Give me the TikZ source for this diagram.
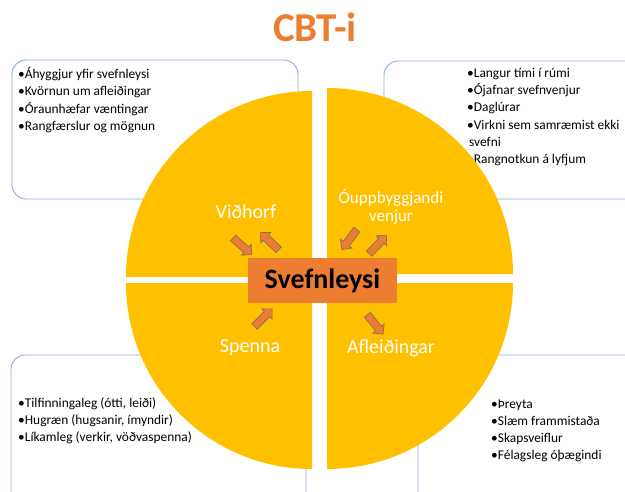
\documentclass[tikz,border=0pt]{standalone}
\usepackage{fontspec}
\setmainfont{Carlito}
\usetikzlibrary{shapes.arrows}
\definecolor{cbtorange}{RGB}{237,125,49}
\definecolor{cbtyellow}{RGB}{255,192,0}
\definecolor{boxblue}{RGB}{143,170,220}
\definecolor{arrowgray}{RGB}{112,112,112}
\def\quarter(#1)(#2:#3){\fill[cbtyellow] (#1) -- ++(#2:186pt) arc (#2:#3:186pt) -- cycle;}
\tikzset{
	listbox/.style={draw=boxblue, line width=0.9pt, fill=white, rounded corners=14pt},
	item/.style={font=\fontsize{13.4}{16}\selectfont, anchor=base west, inner sep=0pt},
	quadlabel/.style={text=white, font=\fontsize{20}{22}\selectfont, inner sep=0pt},
	blockarrow/.style={single arrow, draw=arrowgray, fill=cbtorange, line width=0.6pt,
		minimum height=25pt, inner sep=3.5pt, single arrow head extend=3.5pt}
}

\begin{document}
\begin{tikzpicture}[x=1pt, y=-1pt]
			%%%%% START %%%%%
			\useasboundingbox (0, 0) rectangle (625, 491);
			\clip (0, 0) rectangle (625, 491);
			
			\node[text=cbtorange, font=\fontsize{41}{44}\bfseries] (title) at (315, 27) {CBT-i};
			
			% boxes behind the circle
			\draw[listbox] (12, 60) rectangle (298, 199);
			\draw[listbox] (384, 61) rectangle (650, 199);
			\draw[listbox] (11, 355) rectangle (306, 520);
			\draw[listbox] (418, 355) rectangle (650, 520);
			
			\foreach \t [count=\i] in {•Áhyggjur yfir svefnleysi, •Kvörnun um afleiðingar, •Óraunhæfar væntingar, •Rangfærslur og mögnun}
				\node[item] (tl\i) at (18, 60.5+17.5*\i) {\t};
			\foreach \t [count=\i] in {•Langur tími í rúmi, •Ójafnar svefnvenjur, •Daglúrar, •Virkni sem samræmist ekki, \hspace{2pt}svefni, •Rangnotkun á lyfjum}
				\node[item] (tr\i) at (467, 60+17.3*\i) {\t};
			\foreach \t [count=\i] in {{•Tilfinningaleg (ótti, leiði)}, {•Hugræn (hugsanir, ímyndir)}, {•Líkamleg (verkir, vöðvaspenna)}}
				\node[item] (bl\i) at (18, 390+17*\i) {\t};
			\foreach \t [count=\i] in {•Þreyta, •Slæm frammistaða, •Skapsveiflur, •Félagsleg óþægindi}
				\node[item] (br\i) at (491, 391+17.2*\i) {\t};
			
			% the four quarters
			\quarter(312, 277)(180:90)
			\quarter(327, 274)(90:0)
			\quarter(312, 283)(270:180)
			\quarter(327, 283)(0:-90)
			
			\node[quadlabel] (vidhorf) at (246, 212) {Viðhorf};
			\node[quadlabel, font=\fontsize{17}{18}\selectfont, align=center] (venjur) at (391, 207) {Óuppbyggjandi\\venjur};
			\node[quadlabel] (spenna) at (250, 348) {Spenna};
			\node[quadlabel] (afleid) at (391, 348) {Afleiðingar};
			
			\node[fill=cbtorange, minimum width=149pt, minimum height=45pt, inner sep=0pt,
				font=\fontsize{28}{30}\bfseries] (svefn) at (322.5, 280.5) {Svefnleysi};
			
			% arrows
			\node[blockarrow, rotate=-41.6] (a1) at (241, 245) {};
			\node[blockarrow, rotate=136.6] (a2) at (271, 242.5) {};
			\node[blockarrow, rotate=233] (a3) at (350.5, 238) {};
			\node[blockarrow, rotate=46.6] (a4) at (376.5, 246) {};
			\node[blockarrow, rotate=45] (a5) at (262, 319) {};
			\node[blockarrow, rotate=-51] (a6) at (374, 323) {};
			
			%%%%% END %%%%%
\end{tikzpicture}
\end{document}
